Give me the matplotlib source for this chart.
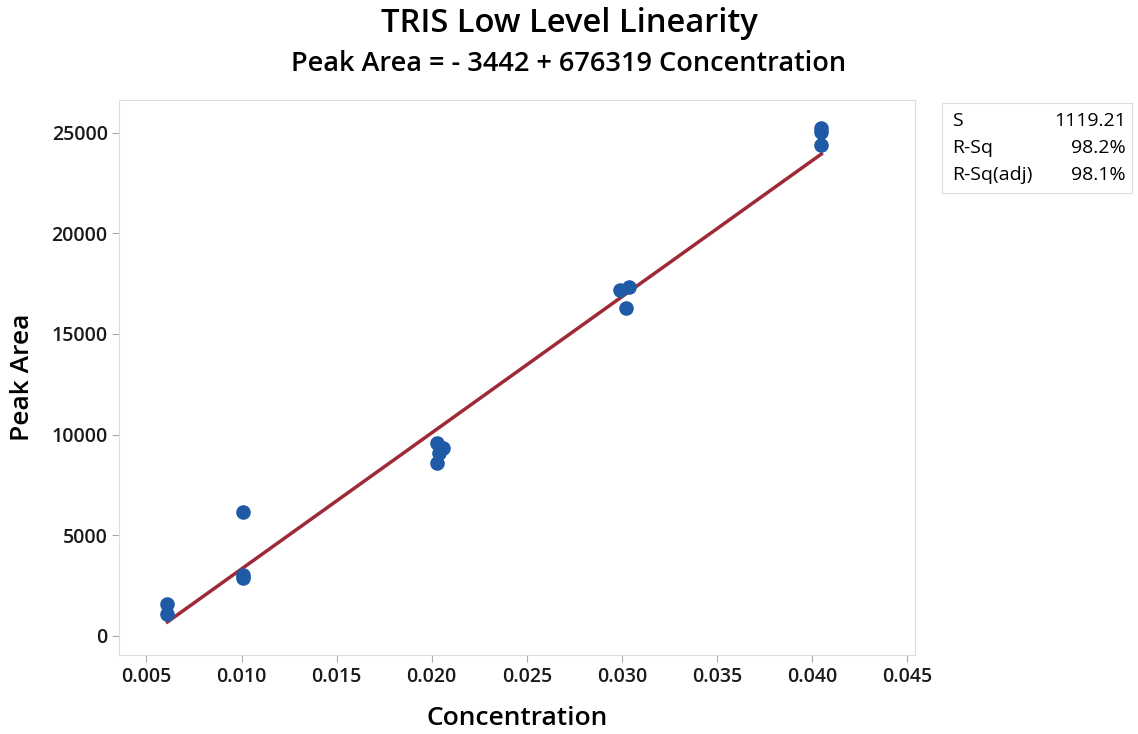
import matplotlib.pyplot as plt
import numpy as np

plt.rcParams['font.family'] = ['Open Sans', 'DejaVu Sans']

# observed data
conc = [0.0061, 0.0061, 0.0101, 0.0101, 0.0101,
        0.0203, 0.0206, 0.0204, 0.0203,
        0.0299, 0.0304, 0.0302,
        0.0405, 0.0405, 0.0405]
area = [1590, 1090, 6160, 3030, 2880,
        9590, 9340, 9090, 8600,
        17200, 17350, 16300,
        25250, 25050, 24400]

intercept = -3442
slope = 676319
stats_names = ['S', 'R-Sq', 'R-Sq(adj)']
stats_vals = ['1119.21', '98.2%', '98.1%']

fig = plt.figure(figsize=(11.38, 7.34), dpi=100)
ax = fig.add_axes([0.105, 0.108, 0.699, 0.756])

xs = np.linspace(min(conc), max(conc), 50)
ax.plot(xs, intercept + slope * xs, color='#9e2a36', linewidth=2.5, zorder=1)
ax.scatter(conc, area, s=90, color='#1f5aa6', zorder=2)

ax.set_xlim(0.00358, 0.04542)
ax.set_ylim(-944, 26640)
ax.set_xticks(np.arange(0.005, 0.0451, 0.005))
ax.set_xticklabels(['%.3f' % v for v in np.arange(0.005, 0.0451, 0.005)])
ax.set_yticks(np.arange(0, 25001, 5000))
ax.tick_params(labelsize=14, colors='#1a1a1a', length=5, color='#aaaaaa')
for lab in ax.get_xticklabels() + ax.get_yticklabels():
    lab.set_fontweight('semibold')
for s in ax.spines.values():
    s.set_color('#dddddd')

ax.set_xlabel('Concentration', fontsize=19, fontweight='semibold', labelpad=14)
ax.set_ylabel('Peak Area', fontsize=19, fontweight='semibold', labelpad=12)

fig.text(0.5, 0.968, 'TRIS Low Level Linearity', ha='center', va='center',
         fontsize=23.5, fontweight='semibold')
fig.text(0.5, 0.913, 'Peak Area = - 3442 + 676319 Concentration', ha='center', va='center',
         fontsize=19.5, fontweight='semibold')

# stats box
box = fig.add_axes([0.828, 0.737, 0.167, 0.123])
box.set_xticks([])
box.set_yticks([])
for s in box.spines.values():
    s.set_color('#dddddd')
for i, (n, v) in enumerate(zip(stats_names, stats_vals)):
    yy = 0.8 - i * 0.3
    box.text(0.05, yy, n, fontsize=14, va='center', ha='left', transform=box.transAxes)
    box.text(0.965, yy, v, fontsize=14, va='center', ha='right', transform=box.transAxes)

fig.savefig('out.png')
